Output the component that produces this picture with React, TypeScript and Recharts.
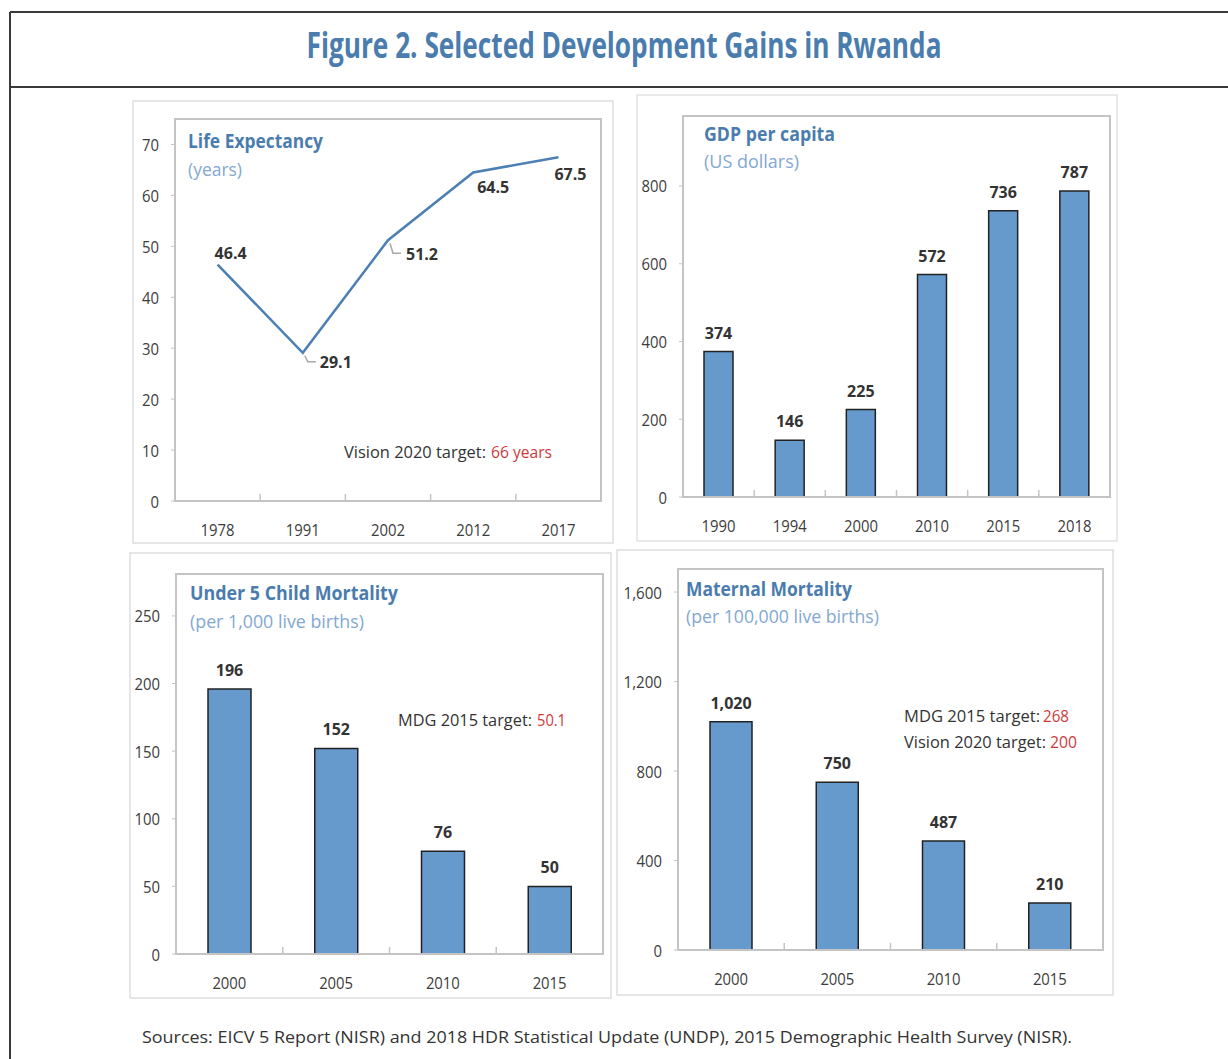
import React from 'react'
import { LineChart, Line, BarChart, Bar, XAxis, YAxis, LabelList } from 'recharts'

// values
const lifeYears = ['1978', '1991', '2002', '2012', '2017']
const lifeValues = [46.4, 29.1, 51.2, 64.5, 67.5]
const lifeTicks = [0, 10, 20, 30, 40, 50, 60, 70]

const gdpYears = ['1990', '1994', '2000', '2010', '2015', '2018']
const gdpValues = [374, 146, 225, 572, 736, 787]
const gdpTicks = [0, 200, 400, 600, 800]

const u5Years = ['2000', '2005', '2010', '2015']
const u5Values = [196, 152, 76, 50]
const u5Ticks = [0, 50, 100, 150, 200, 250]

const mmYears = ['2000', '2005', '2010', '2015']
const mmValues = [1020, 750, 487, 210]
const mmTicks = [0, 400, 800, 1200, 1600]

const FONT = "'Open Sans', 'Noto Sans', sans-serif"
const BLUE = '#4a7cae'
const LINE = '#4c7fb4'
const LIGHT = '#82a8d2'
const RED = '#d0393b'
const INK = '#333333'
const TICK = '#3c3c3c'
const AXIS = '#c4c4c4'
const BAR = '#6699cc'

const lifeData = lifeYears.map((year, i) => ({ year, value: lifeValues[i] }))
const gdpData = gdpYears.map((year, i) => ({ year, value: gdpValues[i] }))
const u5Data = u5Years.map((year, i) => ({ year, value: u5Values[i] }))
const mmData = mmYears.map((year, i) => ({ year, value: mmValues[i] }))

const fmt = (v: number) => v.toLocaleString('en-US')

// squeeze text a little, the source font is condensed
const textW = (s: string) => s.split('').reduce((w, c) => w + (c === ',' || c === '.' ? 4.5 : 8.5), 0)

// label placement for the life expectancy line (relative to each point)
const lifeLabelPos = [
  { dx: 13, dy: -12, lead: false, ly: 0 },
  { dx: 33, dy: 9, lead: true, ly: 9 },
  { dx: 34, dy: 14, lead: true, ly: 13 },
  { dx: 20, dy: 15, lead: false, ly: 0 },
  { dx: 12, dy: 17, lead: false, ly: 0 },
]

function XTick(props: any) {
  const { x, y, payload, index, band } = props
  const s = String(payload.value)
  return (
    <g>
      {index > 0 && (
        <line x1={x - band / 2} x2={x - band / 2} y1={y} y2={y - 7} stroke={AXIS} strokeWidth={1.5} />
      )}
      <text x={x} y={y + 28} textAnchor="middle" dominantBaseline="central" fontSize={17} fill={TICK} fontFamily={FONT}
        textLength={textW(s)} lengthAdjust="spacingAndGlyphs">
        {s}
      </text>
    </g>
  )
}

function YTick(props: any) {
  const { x, y, payload } = props
  const s = fmt(payload.value)
  return (
    <text x={x} y={y} textAnchor="end" dominantBaseline="central" fontSize={17} fill={TICK} fontFamily={FONT}
      textLength={textW(s)} lengthAdjust="spacingAndGlyphs">
      {s}
    </text>
  )
}

function BarLabel(props: any) {
  const { x, y, width, value } = props
  return (
    <text x={x + width / 2} y={y - 13} textAnchor="middle" fontSize={16} fontWeight={700} fill={INK} fontFamily={FONT}>
      {fmt(value)}
    </text>
  )
}

function LifeLabel(props: any) {
  const { x, y, value, index } = props
  const p = lifeLabelPos[index]
  return (
    <g>
      {p.lead && (
        <polyline
          points={`${x + 2},${y + 3} ${x + 5},${y + p.ly} ${x + 13},${y + p.ly}`}
          fill="none"
          stroke="#a8a8a8"
          strokeWidth={1.5}
        />
      )}
      <text x={x + p.dx} y={y + p.dy} textAnchor="middle" dominantBaseline="central" fontSize={16} fontWeight={700} fill={INK} fontFamily={FONT}>
        {value}
      </text>
    </g>
  )
}

function Txt({ x, y, w, size = 17, bold = false, color = INK, children }: any) {
  return (
    <text x={x} y={y} fontSize={size} fontWeight={bold ? 700 : 400} fill={color} fontFamily={FONT} textLength={w} lengthAdjust="spacingAndGlyphs">
      {children}
    </text>
  )
}

function Background() {
  return (
    <svg width={1228} height={1059} style={{ position: 'absolute', left: 0, top: 0 }}>
      {/* frame */}
      <line x1={10} y1={12} x2={1228} y2={12} stroke="#3a3a3a" strokeWidth={2} />
      <line x1={10} y1={87} x2={1228} y2={87} stroke="#3a3a3a" strokeWidth={2} />
      <line x1={10} y1={12} x2={10} y2={1059} stroke="#3a3a3a" strokeWidth={2} />
      <text x={624} y={58} textAnchor="middle" fontSize={36} fontWeight={700} fill={BLUE} fontFamily={FONT} textLength={635} lengthAdjust="spacingAndGlyphs">
        Figure 2. Selected Development Gains in Rwanda
      </text>

      {/* panel boxes */}
      <rect x={133} y={101} width={480} height={442} fill="none" stroke="#dedede" strokeWidth={1.5} />
      <rect x={637} y={95} width={480} height={446} fill="none" stroke="#e2e2e2" strokeWidth={1.5} />
      <rect x={130} y={553} width={481} height={445} fill="none" stroke="#dedede" strokeWidth={1.5} />
      <rect x={617} y={550} width={496} height={445} fill="none" stroke="#dedede" strokeWidth={1.5} />

      {/* plot boxes */}
      <rect x={175} y={119} width={426} height={382} fill="none" stroke={AXIS} strokeWidth={2} />
      <rect x={683} y={116} width={427} height={381} fill="none" stroke={AXIS} strokeWidth={2} />
      <rect x={176} y={574} width={427} height={380} fill="none" stroke={AXIS} strokeWidth={2} />
      <rect x={678} y={569} width={425} height={381} fill="none" stroke={AXIS} strokeWidth={2} />

      {/* panel titles */}
      <Txt x={188} y={148} w={135} size={19} bold color={BLUE}>Life Expectancy</Txt>
      <Txt x={188} y={176} w={54} size={18} color={LIGHT}>(years)</Txt>
      <Txt x={704} y={141} w={131} size={19} bold color={BLUE}>GDP per capita</Txt>
      <Txt x={704} y={168} w={95} size={18} color={LIGHT}>(US dollars)</Txt>
      <Txt x={190} y={600} w={208} size={19} bold color={BLUE}>Under 5 Child Mortality</Txt>
      <Txt x={190} y={628} w={174} size={18} color={LIGHT}>(per 1,000 live births)</Txt>
      <Txt x={686} y={596} w={166} size={19} bold color={BLUE}>Maternal Mortality</Txt>
      <Txt x={686} y={623} w={193} size={18} color={LIGHT}>(per 100,000 live births)</Txt>

      {/* targets */}
      <Txt x={344} y={458} w={142}>Vision 2020 target:</Txt>
      <Txt x={491} y={458} w={61} color={RED}>66 years</Txt>
      <Txt x={398} y={726} w={134}>MDG 2015 target:</Txt>
      <Txt x={537} y={726} w={29} color={RED}>50.1</Txt>
      <Txt x={904} y={722} w={136}>MDG 2015 target:</Txt>
      <Txt x={1043} y={722} w={26} color={RED}>268</Txt>
      <Txt x={904} y={748} w={142}>Vision 2020 target:</Txt>
      <Txt x={1050} y={748} w={27} color={RED}>200</Txt>

      <Txt x={142} y={1043} w={930}>
        Sources: EICV 5 Report (NISR) and 2018 HDR Statistical Update (UNDP), 2015 Demographic Health Survey (NISR).
      </Txt>
    </svg>
  )
}

function BarPanel({ data, left, top, width, height, margin, yWidth, xHeight, domain, ticks, band, barSize }: any) {
  return (
    <div style={{ position: 'absolute', left, top }}>
      <BarChart width={width} height={height} data={data} margin={margin}>
        <XAxis
          dataKey="year"
          height={xHeight}
          interval={0}
          tickSize={0}
          tickMargin={0}
          tickLine={false}
          axisLine={{ stroke: AXIS, strokeWidth: 2 }}
          tick={(p: any) => <XTick {...p} band={band} />}
        />
        <YAxis
          width={yWidth}
          domain={domain}
          ticks={ticks}
          interval={0}
          tickSize={4}
          tickMargin={12}
          tick={YTick}
          tickLine={{ stroke: AXIS }}
          axisLine={{ stroke: AXIS, strokeWidth: 2 }}
        />
        <Bar dataKey="value" fill={BAR} stroke="#222" strokeWidth={1.5} barSize={barSize} isAnimationActive={false}>
          <LabelList dataKey="value" content={BarLabel} />
        </Bar>
      </BarChart>
    </div>
  )
}

export default function App() {
  return (
    <div style={{ position: 'absolute', left: 0, top: 0, width: 1228, height: 1059, background: '#fff', overflow: 'hidden', fontFamily: FONT }}>
      <Background />

      <div style={{ position: 'absolute', left: 133, top: 101 }}>
        <LineChart width={480} height={442} data={lifeData} margin={{ top: 18, right: 12, left: 0, bottom: 0 }}>
          <XAxis
            dataKey="year"
            height={42}
            interval={0}
            padding={{ left: 42.6, right: 42.6 }}
            tickSize={0}
            tickMargin={0}
            tickLine={false}
            axisLine={{ stroke: AXIS, strokeWidth: 2 }}
            tick={(p: any) => <XTick {...p} band={85.2} />}
          />
          <YAxis
            width={42}
            domain={[0, 75]}
            ticks={lifeTicks}
            interval={0}
            tickSize={4}
            tickMargin={12}
            tick={YTick}
            tickLine={{ stroke: AXIS }}
            axisLine={{ stroke: AXIS, strokeWidth: 2 }}
          />
          <Line type="linear" dataKey="value" stroke={LINE} strokeWidth={2.5} dot={false} isAnimationActive={false}>
            <LabelList dataKey="value" content={LifeLabel} />
          </Line>
        </LineChart>
      </div>

      <BarPanel
        data={gdpData} left={637} top={93} width={480} height={448}
        margin={{ top: 23, right: 7, left: 0, bottom: 0 }} yWidth={46} xHeight={44}
        domain={[0, 980]} ticks={gdpTicks} band={71.2} barSize={29}
      />
      <BarPanel
        data={u5Data} left={130} top={553} width={481} height={445}
        margin={{ top: 21, right: 8, left: 0, bottom: 0 }} yWidth={46} xHeight={44}
        domain={[0, 281]} ticks={u5Ticks} band={106.75} barSize={43}
      />
      <BarPanel
        data={mmData} left={617} top={550} width={496} height={445}
        margin={{ top: 19, right: 10, left: 0, bottom: 0 }} yWidth={61} xHeight={45}
        domain={[0, 1703]} ticks={mmTicks} band={106.25} barSize={42}
      />
    </div>
  )
}
